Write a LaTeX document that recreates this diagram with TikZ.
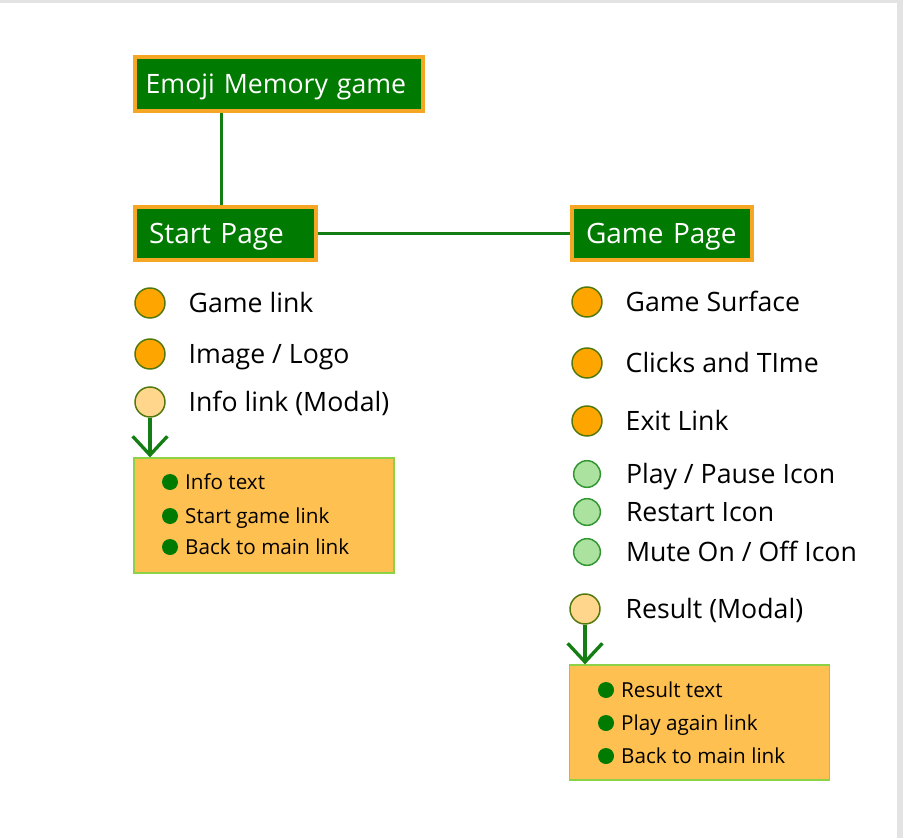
\documentclass[tikz,border=0pt]{standalone}
\usepackage{fontspec}
\setmainfont{Open Sans}
\usetikzlibrary{positioning,arrows.meta}

\definecolor{boxgreen}{RGB}{0,122,0}
\definecolor{edgeorange}{RGB}{245,166,35}
\definecolor{dotorange}{RGB}{255,165,0}
\definecolor{dotrim}{RGB}{80,120,10}
\definecolor{dotpale}{RGB}{255,214,140}
\definecolor{dotmint}{RGB}{172,226,160}
\definecolor{mintrim}{RGB}{50,150,50}
\definecolor{modalfill}{RGB}{254,192,80}
\definecolor{modaledge}{RGB}{140,210,70}
\definecolor{linegreen}{RGB}{20,125,20}

\tikzset{
  pagebox/.style={draw=edgeorange, line width=3pt, fill=boxgreen, text=white,
    font=\fontsize{21}{24}\selectfont, inner xsep=10.5pt, inner ysep=0pt,
    text height=14.5pt, text depth=0pt, minimum height=40pt, align=left},
  bigdot/.style={circle, draw=dotrim, line width=1.1pt, fill=dotorange, minimum size=22.5pt, inner sep=0pt},
  palebig/.style={bigdot, fill=dotpale},
  mintdot/.style={circle, draw=mintrim, line width=1.1pt, fill=dotmint, minimum size=20pt, inner sep=0pt},
  bullettext/.style={font=\fontsize{20}{24}\selectfont, inner sep=0pt, text height=14.3pt, text depth=0pt},
  modalbox/.style={draw=modaledge, line width=1.1pt, fill=modalfill, minimum width=195pt, minimum height=86pt, inner sep=0pt},
  itemdot/.style={circle, fill=boxgreen, minimum size=12pt, inner sep=0pt},
  itemtext/.style={font=\fontsize{15.5}{18}\selectfont, inner sep=0pt, text height=11pt, text depth=0pt},
  link/.style={draw=linegreen, line width=2.25pt},
  openarrow/.style={link, line width=2.5pt, -{Straight Barb[length=14pt, width=26pt]}}
}

\begin{document}
\begin{tikzpicture}[x=0.75pt,y=-0.75pt]
\useasboundingbox (0,0) rectangle (903,838);
% page frame
\fill[gray!22] (0,0) rectangle (903,838);
\fill[white] (0,3) rectangle (897,838);

% page boxes
\node[pagebox, font=\fontsize{20}{24}\selectfont, inner xsep=8pt, text width=200pt] (title) at (279,84) {Emoji Memory game};
\node[pagebox, text width=114.75pt] (start) at (225.5,233.5) {Start Page};
\node[pagebox, text width=114pt] (game) at (662,233.5) {Game Page};

\draw[link] ([xshift=-3pt]start.north |- title.south) -- ([xshift=-3pt]start.north);
\draw[link] (start.east) -- (game.west);

% start page items
\node[bigdot] (slink) at (150,303) {};
\node[bullettext, right=17pt of slink] (slinktxt) {Game link};
\node[bigdot] (slogo) at (150,354) {};
\node[bullettext, right=17pt of slogo] (slogotxt) {Image / Logo};
\node[palebig] (sinfo) at (150,402) {};
\node[bullettext, right=17pt of sinfo] (sinfotxt) {Info link (Modal)};

\node[modalbox] (infomodal) at (264,515.5) {};
\draw[openarrow] (sinfo.south) -- (sinfo.south |- infomodal.north);
\foreach \txt/\yy [count=\i] in {Info text/482, Start game link/516, Back to main link/547}{
  \node[itemdot] (infodot\i) at (170,\yy) {};
  \node[itemtext, right=5pt of infodot\i] (infoitem\i) {\txt};
}

% game page items
\node[bigdot] (gsurf) at (587,302) {};
\node[bullettext, right=17pt of gsurf] (gsurftxt) {Game Surface};
\node[bigdot] (gclick) at (587,363) {};
\node[bullettext, right=17pt of gclick] (gclicktxt) {Clicks and TIme};
\node[bigdot] (gexit) at (587,421) {};
\node[bullettext, right=17pt of gexit] (gexittxt) {Exit Link};
\node[mintdot] (gplay) at (587,474) {};
\node[bullettext, right=18.5pt of gplay] (gplaytxt) {Play / Pause Icon};
\node[mintdot] (grestart) at (587,512) {};
\node[bullettext, right=18.5pt of grestart] (grestarttxt) {Restart Icon};
\node[mintdot] (gmute) at (587,552) {};
\node[bullettext, right=18.5pt of gmute] (gmutetxt) {Mute On / Off Icon};
\node[palebig] (gresult) at (585,609) {};
\node[bullettext, right=18.5pt of gresult] (gresulttxt) {Result (Modal)};

\node[modalbox] (resultmodal) at (699.5,722.5) {};
\draw[openarrow] (gresult.south) -- (gresult.south |- resultmodal.north);
\foreach \txt/\yy [count=\i] in {Result text/690, Play again link/723, Back to main link/756}{
  \node[itemdot] (resdot\i) at (606,\yy) {};
  \node[itemtext, right=5pt of resdot\i] (resitem\i) {\txt};
}
\end{tikzpicture}
\end{document}
